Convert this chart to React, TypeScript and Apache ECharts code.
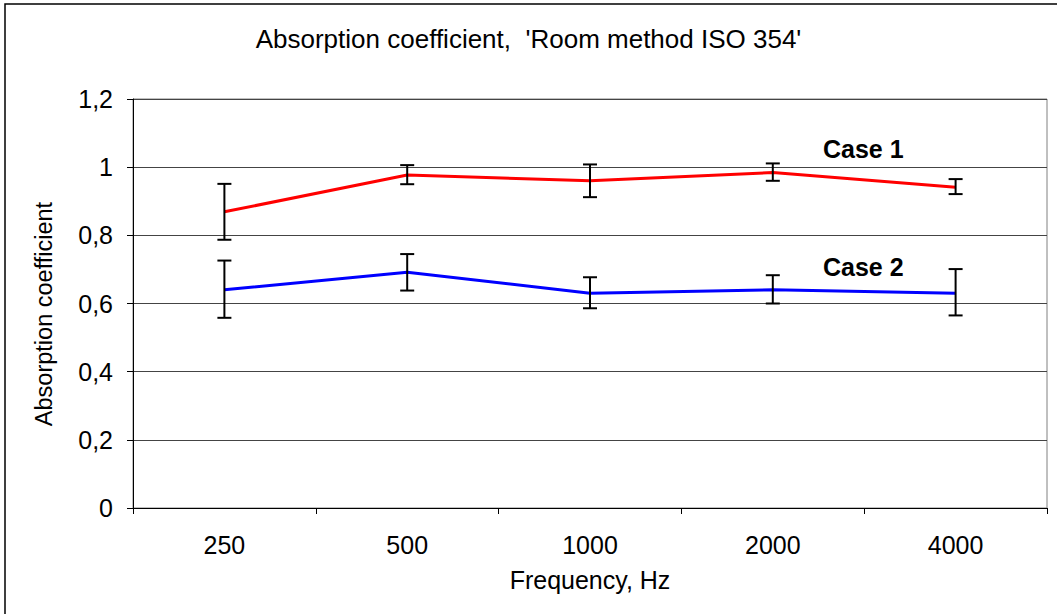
import React, { useEffect, useRef } from "react";
import * as echarts from "echarts";

const categories = ["250", "500", "1000", "2000", "4000"];
const case1 = [0.869, 0.977, 0.96, 0.984, 0.941];
const case1Low = [0.787, 0.95, 0.912, 0.96, 0.921];
const case1High = [0.951, 1.006, 1.008, 1.011, 0.965];
const case2 = [0.64, 0.692, 0.63, 0.64, 0.63];
const case2Low = [0.558, 0.638, 0.586, 0.6, 0.565];
const case2High = [0.726, 0.745, 0.677, 0.683, 0.701];

const FONT = "Liberation Sans, Arial, sans-serif";

function errData(low: number[], high: number[]) {
  return categories.map((_, i) => [i, low[i], high[i]]);
}

function renderErr(params: any, api: any) {
  const x = api.value(0);
  const lo = api.coord([x, api.value(1)]);
  const hi = api.coord([x, api.value(2)]);
  const hw = 7;
  const style = { stroke: "#000", lineWidth: 2 };
  return {
    type: "group",
    children: [
      { type: "line", shape: { x1: lo[0], y1: lo[1], x2: hi[0], y2: hi[1] }, style },
      { type: "line", shape: { x1: lo[0] - hw, y1: lo[1], x2: lo[0] + hw, y2: lo[1] }, style },
      { type: "line", shape: { x1: hi[0] - hw, y1: hi[1], x2: hi[0] + hw, y2: hi[1] }, style },
    ],
  };
}

export default function App() {
  const ref = useRef<HTMLDivElement>(null);
  useEffect(() => {
    document.body.style.margin = "0";
    const chart = echarts.init(ref.current!, undefined, { renderer: "svg" });
    chart.setOption({
      animation: false,
      backgroundColor: "#fff",
      textStyle: { fontFamily: FONT },
      title: {
        text: "Absorption coefficient,  'Room method ISO 354'",
        left: "center",
        top: 21,
        textStyle: { fontFamily: FONT, fontSize: 26, fontWeight: "normal", color: "#000" },
      },
      grid: {
        left: 133,
        right: 10,
        top: 99,
        bottom: 106,
        show: true,
        borderColor: "#808080",
        borderWidth: 1,
        containLabel: false,
      },
      graphic: [
        {
          type: "rect",
          shape: { x: 5, y: 4, width: 1070, height: 630 },
          style: { fill: "none", stroke: "#000", lineWidth: 1.5 },
          silent: true,
        },
        {
          type: "text",
          x: 44,
          y: 314,
          rotation: Math.PI / 2,
          style: {
            text: "Absorption coefficient",
            font: `23.5px ${FONT}`,
            fill: "#000",
            align: "center",
            verticalAlign: "middle",
          },
        },
        {
          type: "text",
          x: 823,
          y: 136,
          style: { text: "Case 1", font: `bold 25px ${FONT}`, fill: "#000" },
        },
        {
          type: "text",
          x: 823,
          y: 254,
          style: { text: "Case 2", font: `bold 25px ${FONT}`, fill: "#000" },
        },
      ],
      xAxis: {
        type: "category",
        data: categories,
        boundaryGap: true,
        name: "Frequency, Hz",
        nameLocation: "middle",
        nameGap: 59,
        nameTextStyle: { fontFamily: FONT, fontSize: 25, color: "#000" },
        axisLine: { lineStyle: { color: "#000", width: 1 } },
        axisTick: { show: true, length: 6, inside: false, lineStyle: { color: "#000" } },
        axisLabel: { fontFamily: FONT, fontSize: 25, color: "#000", margin: 24 },
        splitLine: { show: false },
      },
      yAxis: {
        type: "value",
        min: 0,
        max: 1.2,
        interval: 0.2,
        axisLine: { show: true, lineStyle: { color: "#000", width: 1 } },
        axisTick: { show: true, length: 6, lineStyle: { color: "#000" } },
        axisLabel: {
          fontFamily: FONT,
          fontSize: 25,
          color: "#000",
          margin: 20,
          formatter: (v: number) => String(Math.round(v * 10) / 10).replace(".", ","),
        },
        splitLine: { show: true, lineStyle: { color: "#444", width: 1 } },
      },
      series: [
        {
          name: "Case 1",
          type: "line",
          data: case1,
          symbol: "none",
          lineStyle: { color: "#ff0000", width: 3 },
          z: 3,
        },
        {
          name: "Case 2",
          type: "line",
          data: case2,
          symbol: "none",
          lineStyle: { color: "#0000ff", width: 3 },
          z: 3,
        },
        {
          name: "err1",
          type: "custom",
          data: errData(case1Low, case1High),
          renderItem: renderErr,
          z: 4,
        },
        {
          name: "err2",
          type: "custom",
          data: errData(case2Low, case2High),
          renderItem: renderErr,
          z: 4,
        },
      ],
    });
    return () => chart.dispose();
  }, []);
  return <div ref={ref} style={{ width: 1057, height: 614 }} />;
}
